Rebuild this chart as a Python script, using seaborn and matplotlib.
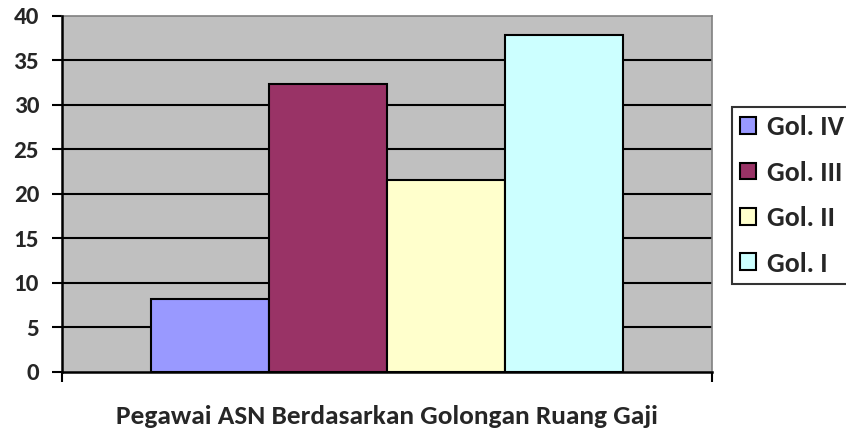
import matplotlib
matplotlib.use("Agg")
import matplotlib.pyplot as plt
import seaborn as sns
import pandas as pd

# Data
kategori = ["Pegawai ASN Berdasarkan Golongan Ruang Gaji"]
golongan = ["Gol. IV", "Gol. III", "Gol. II", "Gol. I"]
nilai = [8.2, 32.3, 21.6, 37.9]
warna = ["#9999FF", "#993366", "#FFFFCC", "#CCFFFF"]
y_ticks = [0, 5, 10, 15, 20, 25, 30, 35, 40]

df = pd.DataFrame({
    "kategori": kategori * len(golongan),
    "golongan": golongan,
    "nilai": nilai,
})

sns.set_style("white")
plt.rcParams["font.family"] = ["Carlito", "DejaVu Sans"]
plt.rcParams["font.weight"] = "bold"

fig = plt.figure(figsize=(8.46, 4.34), dpi=100)
ax = fig.add_axes([62 / 846, 1 - 371.5 / 434, 650 / 846, 355.5 / 434])
ax.set_facecolor("#C0C0C0")

sns.barplot(data=df, x="kategori", y="nilai", hue="golongan",
            hue_order=golongan, palette=warna, width=0.726,
            saturation=1, edgecolor="black", linewidth=1.5, ax=ax,
            zorder=3)

ax.set_xlim(-0.5, 0.5)
ax.set_ylim(0, 40)
ax.set_yticks(y_ticks)
ax.set_yticklabels([str(t) for t in y_ticks], fontsize=18, fontweight="bold")
for t in y_ticks[1:-1]:
    ax.axhline(t, color="black", linewidth=1.5, zorder=1)

ax.set_xticks([])
ax.set_xticks([-0.5, 0.5], minor=True)
ax.tick_params(axis="x", which="minor", length=7, width=1.5, color="black",
               direction="out", bottom=True, labelbottom=False)
ax.tick_params(axis="y", length=7.5, width=1.5, color="black", direction="out",
               left=True, pad=9)

ax.set_xlabel("Pegawai ASN Berdasarkan Golongan Ruang Gaji", fontsize=19.7,
              fontweight="bold", labelpad=17)
ax.set_ylabel("")

for side in ["left", "bottom"]:
    ax.spines[side].set_color("black")
    ax.spines[side].set_linewidth(1.8)
    ax.spines[side].set_zorder(5)
for side in ["top", "right"]:
    ax.spines[side].set_color("#808080")
    ax.spines[side].set_linewidth(1.2)

handles, labels = ax.get_legend_handles_labels()
if ax.get_legend() is not None:
    ax.get_legend().remove()
leg = fig.legend(handles, labels, loc="upper left",
                 bbox_to_anchor=(732 / 846, 1 - 107 / 434),
                 frameon=True, fancybox=False, edgecolor="black",
                 prop={"size": 20, "weight": "bold"},
                 handlelength=0.55, handleheight=0.55, handletextpad=0.42,
                 labelspacing=0.77, borderpad=0.3, borderaxespad=0)
leg.get_frame().set_linewidth(1.5)

fig.savefig("out.png", dpi=100)
